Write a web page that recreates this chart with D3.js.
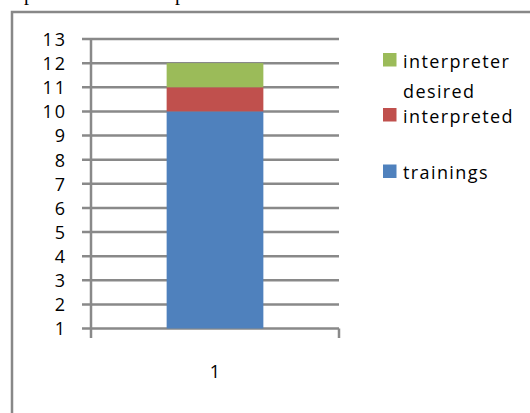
<!DOCTYPE html>
<html>
<head>
<meta charset="utf-8">
<script src="https://cdn.jsdelivr.net/npm/d3@7"></script>
<style>
  body { margin: 0; background: #fff; }
  svg { display: block; }
  text { font-family: "Open Sans", "Noto Sans", sans-serif; fill: #000; }
</style>
</head>
<body>
<svg id="chart" width="530" height="413"></svg>
<script>
// data
var categories = ["1"];
var seriesNames = ["trainings", "interpreted", "interpreter desired"];
var trainings = [10];
var interpreted = [1];
var interpreterDesired = [1];
var yTicks = [1, 2, 3, 4, 5, 6, 7, 8, 9, 10, 11, 12, 13];

var colors = ["#4f81bd", "#c0504d", "#9bbb59"];
var gridColor = "#898989";
var fontSize = "18px";
var spacing = "1.4px";

var svg = d3.select("#chart");

// bits of text from the page above, cut off
svg.append("text").attr("x", 24).attr("y", 0)
  .style("font-family", "'Liberation Serif', serif").style("font-size", "20px").text("p");
svg.append("text").attr("x", 175).attr("y", 0)
  .style("font-family", "'Liberation Serif', serif").style("font-size", "20px").text("p");

// outer chart frame (only top and left visible)
svg.append("path")
  .attr("d", "M12,413 L12,12 L530,12")
  .attr("fill", "none")
  .attr("stroke", "#888")
  .attr("stroke-width", 2.5);

var plot = { left: 91, right: 339, top: 39, bottom: 328.5 };

var y = d3.scaleLinear().domain([1, 13]).range([plot.bottom, plot.top]);
var x = d3.scaleBand().domain(categories).range([plot.left, plot.right])
  .paddingInner(0.61).paddingOuter(0.305);

// rows for stacking
var rows = categories.map(function(c, i) {
  return { cat: c, "trainings": trainings[i], "interpreted": interpreted[i],
           "interpreter desired": interpreterDesired[i] };
});
var stacked = d3.stack().keys(seriesNames)(rows);

// gridlines
svg.append("g").selectAll("line").data(yTicks).join("line")
  .attr("x1", plot.left - 9).attr("x2", plot.right)
  .attr("y1", function(d) { return y(d); })
  .attr("y2", function(d) { return y(d); })
  .attr("stroke", gridColor).attr("stroke-width", 2.5);

// bars (clipped at axis minimum)
svg.append("defs").append("clipPath").attr("id", "clip")
  .append("rect").attr("x", plot.left).attr("y", plot.top)
  .attr("width", plot.right - plot.left).attr("height", plot.bottom - plot.top);

svg.append("g").attr("clip-path", "url(#clip)")
  .selectAll("g").data(stacked).join("g")
  .attr("fill", function(d, i) { return colors[i]; })
  .selectAll("rect").data(function(d) { return d; }).join("rect")
  .attr("x", function(d) { return x(d.data.cat); })
  .attr("width", x.bandwidth())
  .attr("y", function(d) { return y(d[1]); })
  .attr("height", function(d) { return y(d[0]) - y(d[1]); });

// y axis
var yAxis = svg.append("g")
  .attr("transform", "translate(" + plot.left + ",0)")
  .call(d3.axisLeft(y).tickValues(yTicks).tickFormat(d3.format("d")).tickSize(9).tickPadding(15));
yAxis.select(".domain").remove();
yAxis.selectAll(".tick line").remove();
yAxis.selectAll("text")
  .style("font-size", fontSize)
  .style("font-family", "'Open Sans', sans-serif")
  .style("letter-spacing", "2px")
  .attr("dy", "0.36em");

svg.append("line")
  .attr("x1", plot.left).attr("x2", plot.left)
  .attr("y1", plot.top - 1).attr("y2", plot.bottom + 9.5)
  .attr("stroke", gridColor).attr("stroke-width", 2.5);

// x axis
var xAxis = svg.append("g")
  .attr("transform", "translate(0," + plot.bottom + ")")
  .call(d3.axisBottom(x).tickSize(0).tickPadding(37));
xAxis.select(".domain").remove();
xAxis.selectAll("text")
  .style("font-size", fontSize)
  .style("font-family", "'Open Sans', sans-serif");

svg.append("line")
  .attr("x1", plot.right).attr("x2", plot.right)
  .attr("y1", plot.bottom).attr("y2", plot.bottom + 9.5)
  .attr("stroke", gridColor).attr("stroke-width", 2.5);

// legend
var legendItems = [
  { name: "interpreter desired", lines: ["interpreter", "desired"], color: colors[2], top: 53 },
  { name: "interpreted", lines: ["interpreted"], color: colors[1], top: 108 },
  { name: "trainings", lines: ["trainings"], color: colors[0], top: 164.5 }
];
var legend = svg.append("g").selectAll("g").data(legendItems).join("g");
legend.append("rect")
  .attr("x", 383).attr("y", function(d) { return d.top; })
  .attr("width", 13.5).attr("height", 13.5)
  .attr("fill", function(d) { return d.color; });
legend.append("text")
  .attr("x", 403)
  .attr("y", function(d) { return d.top + 14.5; })
  .style("font-size", fontSize)
  .style("letter-spacing", spacing)
  .selectAll("tspan").data(function(d) { return d.lines; }).join("tspan")
  .attr("x", 403)
  .attr("dy", function(d, i) { return i === 0 ? 0 : 30; })
  .text(function(d) { return d; });
</script>
</body>
</html>
